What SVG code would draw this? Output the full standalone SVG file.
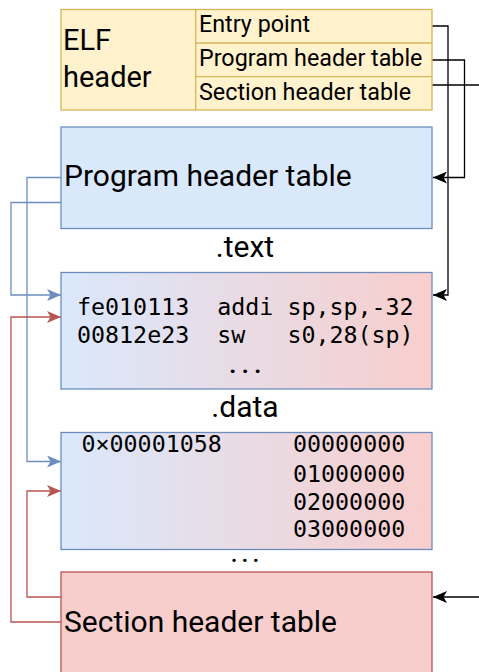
<svg xmlns="http://www.w3.org/2000/svg" width="479" height="672" viewBox="0 0 479 672">
<style>
.t{font-family:Roboto,"Liberation Sans",sans-serif;fill:#000}
.m{font-family:"DejaVu Sans Mono","Liberation Mono",monospace;fill:#000;font-size:23.3px}
.d{font-family:Roboto,"Liberation Sans",sans-serif;fill:#000;font-size:30px;letter-spacing:3px}
.d2{font-family:Roboto,"Liberation Sans",sans-serif;fill:#000;font-size:24px;letter-spacing:5.5px;font-weight:bold}
.yel{fill:#fff2cc;stroke:#d6b656;stroke-width:1.3}
.blu{fill:#dae8fc;stroke:#6c8ebf;stroke-width:1.3}
.red{fill:#f8cecc;stroke:#b85450;stroke-width:1.3}
.grd{fill:url(#g);stroke:#6c8ebf;stroke-width:1.3}
.ck{fill:none;stroke:#000;stroke-width:1.3}
.cb{fill:none;stroke:#6c8ebf;stroke-width:1.3}
.cr{fill:none;stroke:#b85450;stroke-width:1.3}
</style>
<defs>
<linearGradient id="g" x1="0" y1="0" x2="1" y2="0">
<stop offset="0" stop-color="#dae8fc"/>
<stop offset="1" stop-color="#f8cecc"/>
</linearGradient>
<marker id="ak" viewBox="0 0 14 12" refX="14" refY="6" markerWidth="14" markerHeight="12" markerUnits="userSpaceOnUse" orient="auto"><path d="M0,0 L14,6 L0,12 L3.5,6 Z" fill="#000"/></marker>
<marker id="ab" viewBox="0 0 14 12" refX="14" refY="6" markerWidth="14" markerHeight="12" markerUnits="userSpaceOnUse" orient="auto"><path d="M0,0 L14,6 L0,12 L3.5,6 Z" fill="#6c8ebf"/></marker>
<marker id="ar" viewBox="0 0 14 12" refX="14" refY="6" markerWidth="14" markerHeight="12" markerUnits="userSpaceOnUse" orient="auto"><path d="M0,0 L14,6 L0,12 L3.5,6 Z" fill="#b85450"/></marker>
</defs>
<g id="connectors">
<path class="ck" d="M432,26 H448 V295 H433" marker-end="url(#ak)"/>
<path class="ck" d="M432,60 H464.5 V177.5 H433" marker-end="url(#ak)"/>
<path class="ck" d="M432,85 H490"/>
<path class="ck" d="M490,597 H433" marker-end="url(#ak)"/>
<path class="cb" d="M61,177.5 H27 V461.5 H61" marker-end="url(#ab)"/>
<path class="cb" d="M61,202.5 H11 V295 H61" marker-end="url(#ab)"/>
<path class="cr" d="M61,597 H27 V491 H61" marker-end="url(#ar)"/>
<path class="cr" d="M61,622 H11 V317 H61" marker-end="url(#ar)"/>
</g>
<g id="elf-header">
<rect class="yel" x="61" y="9.5" width="371" height="100.5"/>
<line class="yel" x1="195.7" y1="9.5" x2="195.7" y2="110"/>
<line class="yel" x1="195.7" y1="43" x2="432" y2="43"/>
<line class="yel" x1="195.7" y1="76.7" x2="432" y2="76.7"/>
<text class="t" x="63" y="50" font-size="29">ELF</text>
<text class="t" x="63" y="87" font-size="29">header</text>
<text class="t" x="199" y="32" font-size="23.3">Entry point</text>
<text class="t" x="199" y="66" font-size="23.3">Program header table</text>
<text class="t" x="199" y="99.5" font-size="23.3">Section header table</text>
</g>
<g id="program-header-table">
<rect class="blu" x="61" y="127" width="371" height="101.5"/>
<text class="t" x="64" y="186" font-size="30">Program header table</text>
</g>
<g id="text-section">
<text class="t" x="245" y="257" font-size="30" text-anchor="middle">.text</text>
<rect class="grd" x="61" y="272.5" width="371" height="116.5"/>
<text class="m" x="77" y="315" xml:space="preserve">fe010113  addi sp,sp,-32</text>
<text class="m" x="77" y="342.5" xml:space="preserve">00812e23  sw   s0,28(sp)</text>
<text class="d2" x="248" y="373" text-anchor="middle">...</text>
</g>
<g id="data-section">
<text class="t" x="245" y="417" font-size="30" text-anchor="middle">.data</text>
<rect class="grd" x="61" y="432.5" width="371" height="117"/>
<text class="m" x="81.5" y="452">0×00001058</text>
<text class="m" x="293" y="452">00000000</text>
<text class="m" x="293" y="481.5">01000000</text>
<text class="m" x="293" y="509.5">02000000</text>
<text class="m" x="293" y="537">03000000</text>
<text class="d" x="246.5" y="562" text-anchor="middle">...</text>
</g>
<g id="section-header-table">
<rect class="red" x="61" y="572" width="371" height="110"/>
<text class="t" x="64" y="632" font-size="30">Section header table</text>
</g>
</svg>
